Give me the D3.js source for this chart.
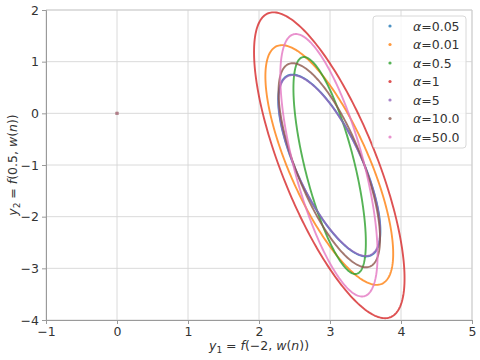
<!DOCTYPE html>
<html>
<head>
<meta charset="utf-8">
<script src="https://cdn.jsdelivr.net/npm/d3@7"></script>
<style>
  body { margin:0; background:#fff; }
  svg { display:block; font-family:"DejaVu Sans", sans-serif; }
</style>
</head>
<body>
<svg id="chart" width="480" height="360"></svg>
<script>
// values
var alphaLabels = ["0.05", "0.01", "0.5", "1", "5", "10.0", "50.0"];
var colors = ["#1f77b4", "#ff7f0e", "#2ca02c", "#d62728", "#9467bd", "#8c564b", "#e377c2"];
// each curve is an ellipse: center, half-widths along x/y, correlation
var centerX = [2.99, 2.99, 2.995, 2.99, 2.99, 2.99, 2.985];
var centerY = [-1.01, -1.0, -1.01, -1.005, -1.01, -1.005, -1.005];
var spreadX = [0.72, 0.90, 0.51, 1.06, 0.715, 0.715, 0.685];
var spreadY = [1.76, 2.32, 2.10, 2.96, 1.75, 1.975, 2.54];
var corr = [-0.72, -0.74, -0.71, -0.74, -0.72, -0.72, -0.68];
var startPoint = [0, 0];
var xTicks = [-1, 0, 1, 2, 3, 4, 5];
var yTicks = [-4, -3, -2, -1, 0, 1, 2];

var svg = d3.select("#chart");
var m = {l:46, r:472, t:10, b:320};

var x = d3.scaleLinear().domain([-1, 5]).range([m.l, m.r]);
var y = d3.scaleLinear().domain([-4, 2]).range([m.b, m.t]);

// grid
var grid = svg.append("g");
grid.selectAll(".gx").data(xTicks).enter().append("line")
   .attr("x1", function(d){return x(d)}).attr("x2", function(d){return x(d)})
   .attr("y1", m.t).attr("y2", m.b)
   .attr("stroke", "#d6d6d6").attr("stroke-width", 0.9);
grid.selectAll(".gy").data(yTicks).enter().append("line")
   .attr("y1", function(d){return y(d)}).attr("y2", function(d){return y(d)})
   .attr("x1", m.l).attr("x2", m.r)
   .attr("stroke", "#d6d6d6").attr("stroke-width", 0.9);

// frame: light top/right, darker left/bottom
svg.append("line").attr("x1", m.l).attr("x2", m.r).attr("y1", m.t).attr("y2", m.t)
   .attr("stroke", "#cfcfcf");
svg.append("line").attr("x1", m.r).attr("x2", m.r).attr("y1", m.t).attr("y2", m.b)
   .attr("stroke", "#cfcfcf");

var xAxis = svg.append("g").attr("transform", "translate(0," + m.b + ")")
   .call(d3.axisBottom(x).tickValues(xTicks).tickSize(4).tickPadding(3)
      .tickFormat(function(d){return d < 0 ? "\u2212" + (-d) : d}));
var yAxis = svg.append("g").attr("transform", "translate(" + m.l + ",0)")
   .call(d3.axisLeft(y).tickValues(yTicks).tickSize(4).tickPadding(3)
      .tickFormat(function(d){return d < 0 ? "\u2212" + (-d) : d}));
[xAxis, yAxis].forEach(function(a){
   a.select(".domain").attr("stroke", "#9a9a9a");
   a.selectAll(".tick line").attr("stroke", "#9a9a9a");
   a.selectAll(".tick text").attr("fill", "#333")
      .style("font-size", "12.5px").style("font-family", "DejaVu Sans");
});
xAxis.selectAll(".tick text").attr("dy", "0.72em");

// ellipse curves
var line = d3.line().x(function(d){return x(d[0])}).y(function(d){return y(d[1])});
var steps = d3.range(0, 241).map(function(i){return i / 240 * 2 * Math.PI});
alphaLabels.forEach(function(a, i){
   var delta = Math.acos(corr[i]);
   var pts = steps.map(function(t){
      return [centerX[i] + spreadX[i] * Math.cos(t), centerY[i] + spreadY[i] * Math.cos(t - delta)];
   });
   svg.append("path").attr("d", line(pts))
      .attr("fill", "none").attr("stroke", colors[i])
      .attr("stroke-width", 1.9).attr("stroke-opacity", 0.8);
});

// all series start at the origin (they overlap into a greyish dot)
alphaLabels.forEach(function(a, i){
   svg.append("rect").attr("x", x(startPoint[0]) - 1.5).attr("y", y(startPoint[1]) - 1.5)
      .attr("width", 3).attr("height", 3).attr("fill", colors[i]).attr("fill-opacity", 0.22);
});

// axis labels (math style)
function mathLabel(g, parts){
   var t = g.append("text").attr("fill", "#333").style("font-size", "12.5px").attr("text-anchor", "middle");
   parts.forEach(function(p){
      var s = t.append("tspan").text(p[0]);
      if(p[1] == "i") s.style("font-style", "italic");
      if(p[1] == "sub") s.style("font-size", "9px").attr("dy", "3");
      if(p[1] == "up") s.attr("dy", "-3");
   });
   return t;
}
mathLabel(svg.append("g").attr("transform", "translate(" + ((m.l + m.r) / 2) + ",350)"),
   [["y","i"],["1","sub"],[" = ","up"],["f","i"],["(\u22122, "],["w","i"],["("],["n","i"],["))"]]);
mathLabel(svg.append("g").attr("transform", "translate(17," + ((m.t + m.b) / 2) + ") rotate(-90)"),
   [["y","i"],["2","sub"],[" = ","up"],["f","i"],["(0.5, "],["w","i"],["("],["n","i"],["))"]]);

// legend
var lg = svg.append("g").attr("transform", "translate(373,16)");
lg.append("rect").attr("width", 93).attr("height", 132).attr("rx", 3)
   .attr("fill", "#fff").attr("fill-opacity", 0.8).attr("stroke", "#d8d8d8");
alphaLabels.forEach(function(a, i){
   var row = lg.append("g").attr("transform", "translate(0," + (10 + i * 18.5) + ")");
   row.append("circle").attr("cx", 17).attr("cy", 0).attr("r", 1.6).attr("fill", colors[i]).attr("fill-opacity", 0.8);
   var t = row.append("text").attr("x", 40).attr("y", 4.5).attr("fill", "#333").style("font-size", "12.5px");
   t.append("tspan").text("\u03b1").style("font-style", "italic");
   t.append("tspan").text("=" + a);
});
</script>
</body>
</html>
